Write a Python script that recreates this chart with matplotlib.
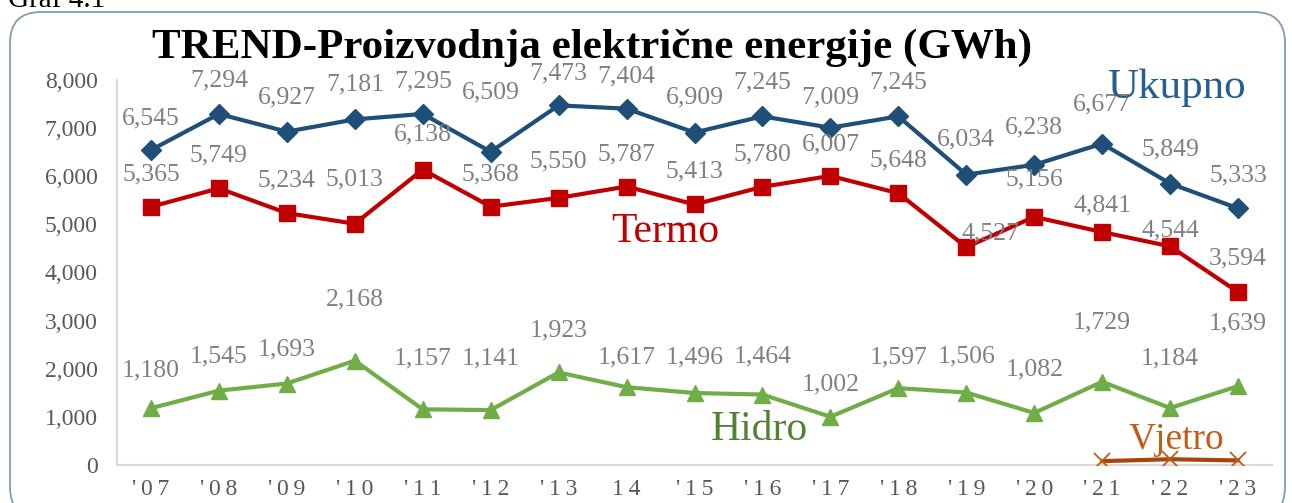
import matplotlib.pyplot as plt
from matplotlib.patches import FancyBboxPatch
from matplotlib.ticker import FuncFormatter

# podaci (GWh)
godine = ["'07", "'08", "'09", "'10", "'11", "'12", "'13", "14", "'15", "'16",
          "'17", "'18", "'19", "'20", "'21", "'22", "'23"]
ukupno = [6545, 7294, 6927, 7181, 7295, 6509, 7473, 7404, 6909, 7245,
          7009, 7245, 6034, 6238, 6677, 5849, 5333]
termo = [5365, 5749, 5234, 5013, 6138, 5368, 5550, 5787, 5413, 5780,
         6007, 5648, 4527, 5156, 4841, 4544, 3594]
hidro = [1180, 1545, 1693, 2168, 1157, 1141, 1923, 1617, 1496, 1464,
         1002, 1597, 1506, 1082, 1729, 1184, 1639]
vjetro_godine = [14, 15, 16]
vjetro = [80, 120, 95]

# pomaci oznaka iznad tacaka (px)
off_u = [32, 34, 34, 35, 32, 59, 32, 32, 35, 34, 30, 34, 35, 37, 39, 34, 33]
off_t = [32, 33, 33, 44, 35, 32, 36, 32, 33, 32, 31, 33, 14, 37, 27, 16, 34]
off_h = [38, 34, 34, 61, 51, 52, 42, 30, 36, 38, 32, 31, 36, 43, 59, 50, 63]
dx_t = {12: 24}

plt.rcParams['font.family'] = ['Liberation Serif', 'DejaVu Serif']

c_u = '#1F4E79'
c_t = '#C00000'
c_h = '#70AD47'
c_v = '#C55A11'
siva = '#808080'

fig = plt.figure(figsize=(12.92, 5.03), dpi=100)
fig.set_facecolor('white')
ax = fig.add_axes([117 / 1292, 1 - 465 / 503, (1272 - 117) / 1292, (465 - 80) / 503])

x = list(range(len(godine)))
ax.plot(x, ukupno, color=c_u, lw=3, marker='D', markersize=10, zorder=3)
ax.plot(x, termo, color=c_t, lw=3, marker='s', markersize=11, zorder=3)
ax.plot(x, hidro, color=c_h, lw=3, marker='^', markersize=12, zorder=3)
ax.plot(vjetro_godine, vjetro, color='#A5470D', lw=3, marker='x', markersize=11,
        markeredgewidth=1.3, markeredgecolor=c_v, zorder=3)

px = 0.72  # px -> pt
for vals, offs in [(ukupno, off_u), (termo, off_t), (hidro, off_h)]:
    for i, v in enumerate(vals):
        dx = dx_t.get(i, 0) if vals is termo else 0
        ax.annotate(f'{v:,}', (i, v), xytext=(dx * px, offs[i] * px), textcoords='offset points',
                    ha='center', va='center', fontsize=18.5, color=siva)

ax.text(15.09, 7838, 'Ukupno', color='#255E91', fontsize=31, ha='center', va='center')
ax.text(7.57, 4844, 'Termo', color=c_t, fontsize=30, ha='center', va='center')
ax.text(8.95, 728, 'Hidro', color='#548235', fontsize=30, ha='center', va='center')
ax.text(15.1, 520, 'Vjetro', color=c_v, fontsize=27, ha='center', va='center')

ax.set_xlim(-0.5, len(godine) - 0.5)
ax.set_ylim(0, 8000)
ax.set_yticks(range(0, 8001, 1000))
ax.yaxis.set_major_formatter(FuncFormatter(lambda v, p: f'{int(v):,}'))
ax.set_xticks(x)
ax.set_xticklabels(['\u2009'.join(g) for g in godine])
ax.tick_params(axis='both', length=0, labelsize=17, colors='#595959')
ax.tick_params(axis='x', pad=10)
ax.tick_params(axis='y', pad=14)
for s in ['top', 'right']:
    ax.spines[s].set_visible(False)
for s in ['left', 'bottom']:
    ax.spines[s].set_color('#D9D9D9')
    ax.spines[s].set_linewidth(1.5)

fig.text(592 / 1292, 1 - 48 / 503, 'TREND-Proizvodnja električne energije (GWh)',
         fontsize=31, fontweight='bold', ha='center', va='center')
fig.text(8 / 1292, 1.0, 'Graf 4.1', fontsize=21, ha='left', va='center')

# okvir
okvir = FancyBboxPatch((10 / 1292, -0.03), (1285 - 10) / 1292, (1 - 12 / 503) + 0.03,
                       boxstyle='round,pad=0,rounding_size=0.024', transform=fig.transFigure,
                       facecolor='none', edgecolor='#7F9DB9', lw=1.3, mutation_aspect=1292 / 503)
fig.patches.append(okvir)

fig.savefig('out.png', dpi=100)
